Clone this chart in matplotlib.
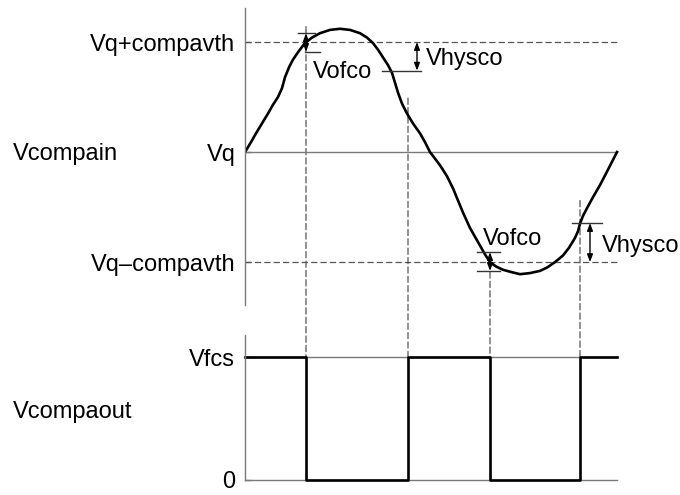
import matplotlib.pyplot as plt
from matplotlib.patches import ConnectionPatch
from matplotlib.transforms import blended_transform_factory

plt.rcParams['font.family'] = ['Liberation Sans', 'DejaVu Sans']

# Input signal (t in time units, V in units of compavth around Vq)
t_in = [0, 6, 11, 17, 23, 28, 33, 37, 40, 44, 48, 54, 60, 67, 75, 85, 95, 105, 115,
        122, 128, 133, 138, 143, 147, 150, 153, 157, 162, 168, 175, 180, 185,
        190, 195, 202, 208, 213, 218, 222, 225, 230, 235, 240, 245, 251, 258,
        266, 275, 285, 295, 302, 310, 318, 324, 330, 333, 335, 338, 342, 348,
        355, 363, 372]
v_in = [0, 0.09, 0.17, 0.26, 0.35, 0.43, 0.50, 0.58, 0.68, 0.77, 0.84, 0.92, 0.99,
        1.04, 1.08, 1.11, 1.12, 1.11, 1.08, 1.04, 0.99, 0.93, 0.86, 0.79, 0.72,
        0.63, 0.54, 0.44, 0.35, 0.26, 0.17, 0.09, 0.0,
        -0.06, -0.12, -0.22, -0.33, -0.44, -0.55, -0.63, -0.69, -0.77, -0.85,
        -0.93, -1.0, -1.04, -1.07, -1.09, -1.11, -1.10, -1.08, -1.05, -1.00,
        -0.94, -0.87, -0.78, -0.72, -0.65, -0.58, -0.51, -0.41, -0.30, -0.16, 0.0]

in_ticks = [-1.0, 0.0, 1.0]
in_labels = ['Vq\u2013compavth', 'Vq', 'Vq+compavth']

# Output signal
t_out = [0, 61, 163, 245, 335, 372]
v_out = [1, 0, 1, 0, 1, 1]
out_ticks = [0, 1]
out_labels = ['0', 'Vfcs']

# Switching instants and where their dashed guide starts on top
t_switch = [61, 163, 245, 335]
v_guide = [1.14, 0.49, -1.09, -0.44]

# Vofco marks
ofco_t = [61, 245]
ofco_hi = [1.08, -0.91]
ofco_lo = [0.91, -1.08]
ofco_hi_span = [(53, 70), (232, 255)]
ofco_lo_span = [(60, 75), (232, 255)]
ofco_text = [(68, 0.673), (238, -0.845)]

# Vhysco marks
hys_t = [172, 345]
hys_from = [1.0, -1.0]
hys_to = [0.74, -0.645]
hys_span = [(137, 176), (327, 357)]
hys_text = [(181, 0.79), (357, -0.91)]

FS = 17
GRAY = '#7a7a7a'
DASH = '#555555'

fig = plt.figure(figsize=(6.8, 4.95), dpi=100)
ax1 = fig.add_axes([245 / 680, 190 / 495, 395 / 680, 297 / 495])
ax2 = fig.add_axes([245 / 680, 15 / 495, 395 / 680, 145 / 495])

for ax in (ax1, ax2):
    ax.set_xlim(0, 395)
    for s in ('top', 'right', 'bottom'):
        ax.spines[s].set_visible(False)
    ax.spines['left'].set_color(GRAY)
    ax.spines['left'].set_linewidth(1.0)
    ax.set_xticks([])
    ax.tick_params(axis='y', direction='in', length=4, width=1.0, color=GRAY,
                   pad=7, labelsize=FS)
    ax.patch.set_alpha(0)

# Top panel
ax1.set_ylim(-1.39, 1.309)
ax1.set_yticks(in_ticks)
ax1.set_yticklabels(in_labels)
ax1.plot([0, t_in[-1]], [0, 0], color=GRAY, lw=1.0)
for lvl in (1.0, -1.0):
    ax1.plot([0, t_in[-1]], [lvl, lvl], color=DASH, lw=0.9, ls=(0, (5, 2.5)))
ax1.plot(t_in, v_in, color='black', lw=1.9, solid_joinstyle='round')

for i in range(2):
    a, b = ofco_hi_span[i]
    ax1.plot([a, b], [ofco_hi[i], ofco_hi[i]], color='#333333', lw=1.0)
    a, b = ofco_lo_span[i]
    ax1.plot([a, b], [ofco_lo[i], ofco_lo[i]], color='#333333', lw=1.0)
    ax1.annotate('', xy=(ofco_t[i], ofco_hi[i]), xytext=(ofco_t[i], ofco_lo[i]),
                 arrowprops=dict(arrowstyle='<|-|>,head_length=0.45,head_width=0.17',
                                 color='black', lw=1.0, shrinkA=0, shrinkB=0))
    ax1.text(*ofco_text[i], 'Vofco', fontsize=FS, ha='left', va='baseline')

    a, b = hys_span[i]
    ax1.plot([a, b], [hys_to[i], hys_to[i]], color='#333333', lw=1.0)
    ax1.annotate('', xy=(hys_t[i], hys_from[i]), xytext=(hys_t[i], hys_to[i]),
                 arrowprops=dict(arrowstyle='<|-|>,head_length=0.45,head_width=0.17',
                                 color='black', lw=1.0, shrinkA=0, shrinkB=0))
    ax1.text(*hys_text[i], 'Vhysco', fontsize=FS, ha='left', va='baseline')

# Bottom panel
ax2.set_ylim(0, 1.179)
ax2.set_yticks(out_ticks)
ax2.set_yticklabels(out_labels)
ax2.plot([0, t_out[-1]], [1, 1], color=GRAY, lw=1.0)
ax2.plot([0, t_out[-1]], [0, 0], color=GRAY, lw=1.0, clip_on=False)
ax2.step(t_out, v_out, where='post', color='black', lw=1.9, clip_on=False)

# Dashed guides from the input down to the output
for t, v in zip(t_switch, v_guide):
    con = ConnectionPatch(xyA=(t, v), coordsA=ax1.transData,
                          xyB=(t, 1), coordsB=ax2.transData,
                          color=DASH, lw=0.9, ls=(0, (5, 2.5)), zorder=0)
    fig.add_artist(con)

# Signal names
tr1 = blended_transform_factory(fig.transFigure, ax1.transData)
ax1.text(13 / 680, -0.073, 'Vcompain', transform=tr1, fontsize=FS, va='baseline')
tr2 = blended_transform_factory(fig.transFigure, ax2.transData)
ax2.text(13 / 680, 0.504, 'Vcompaout', transform=tr2, fontsize=FS, va='baseline')

fig.savefig('out.png', dpi=100)
